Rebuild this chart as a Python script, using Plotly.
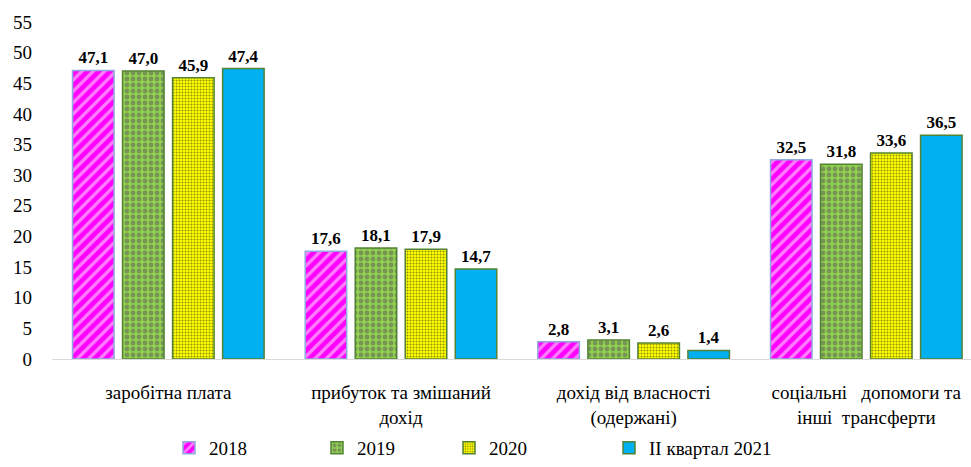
import plotly.graph_objects as go

categories = ["заробітна плата", "прибуток та змішаний<br>дохід", "дохід від власності<br>(одержані)",
              "соціальні\u00a0\u00a0\u00a0допомоги та<br>інші\u00a0\u00a0трансферти"]
series_names = ["2018", "2019", "2020", "II квартал 2021"]
v2018 = [47.1, 17.6, 2.8, 32.5]
v2019 = [47.0, 18.1, 3.1, 31.8]
v2020 = [45.9, 17.9, 2.6, 33.6]
v2021 = [47.4, 14.7, 1.4, 36.5]
y_ticks = list(range(0, 60, 5))

FONT = "serif"
LABEL_FONT = "Liberation Serif"

values = [v2018, v2019, v2020, v2021]
styles = [
    dict(color="#FF00FF", pattern=dict(shape="/", fgcolor="white", bgcolor="#FF00FF", size=8, solidity=0.4),
         line=dict(color="#8FAADC", width=1.5)),
    dict(color="#92D050", pattern=dict(shape=".", fgcolor="#595959", bgcolor="#92D050", size=6, solidity=0.5),
         line=dict(color="#548235", width=1.5)),
    dict(color="#FFFF00", pattern=dict(shape=".", fgcolor="#222222", bgcolor="#FFFF00", size=3, solidity=0.35),
         line=dict(color="#548235", width=1.5)),
    dict(color="#00B0F0", line=dict(color="#548235", width=1.5)),
]
legend_left_px = [169, 317, 449, 609]
legend_ids = ["legend", "legend2", "legend3", "legend4"]

fig = go.Figure()
for name, vals, st, lid in zip(series_names, values, styles, legend_ids):
    fig.add_trace(go.Bar(
        name=name, x=list(range(len(categories))), y=vals, marker=st, legend=lid,
        texttemplate="%{y:.1f}", textposition="outside", cliponaxis=False,
        textfont=dict(family=LABEL_FONT, size=17, color="black", weight="bold"),
    ))

legend_layouts = {}
for lid, px in zip(legend_ids, legend_left_px):
    legend_layouts[lid] = dict(orientation="h", x=(px - 52) / 919, xanchor="left",
                               y=(367 - 458) / 345, yanchor="middle",
                               font=dict(family=FONT, size=19, color="black"),
                               bgcolor="rgba(0,0,0,0)")

fig.update_layout(
    width=971, height=467,
    margin=dict(l=52, r=0, t=22, b=100),
    paper_bgcolor="white", plot_bgcolor="white",
    barmode="group", bargap=0.14, bargroupgap=0.17,
    separators=", ",
    font=dict(family=FONT, size=19, color="black"),
    showlegend=True,
    xaxis=dict(tickmode="array", tickvals=list(range(len(categories))), ticktext=categories,
               range=[-0.5, 3.45], showline=True, linecolor="#D9D9D9", linewidth=1, automargin=False,
               showgrid=False, zeroline=False, ticks="", ticklabelstandoff=16,
               tickfont=dict(family=FONT, size=19, color="black")),
    yaxis=dict(range=[0, 55], tickmode="array", tickvals=y_ticks, showline=False, showgrid=False,
               automargin=False, zeroline=False, ticks="", ticklabelstandoff=19,
               tickfont=dict(family=FONT, size=19, color="black")),
    **legend_layouts,
)

fig.write_html("out.html", config={"displayModeBar": False},
               post_script="document.body.style.margin='0';document.body.style.overflow='hidden';")
